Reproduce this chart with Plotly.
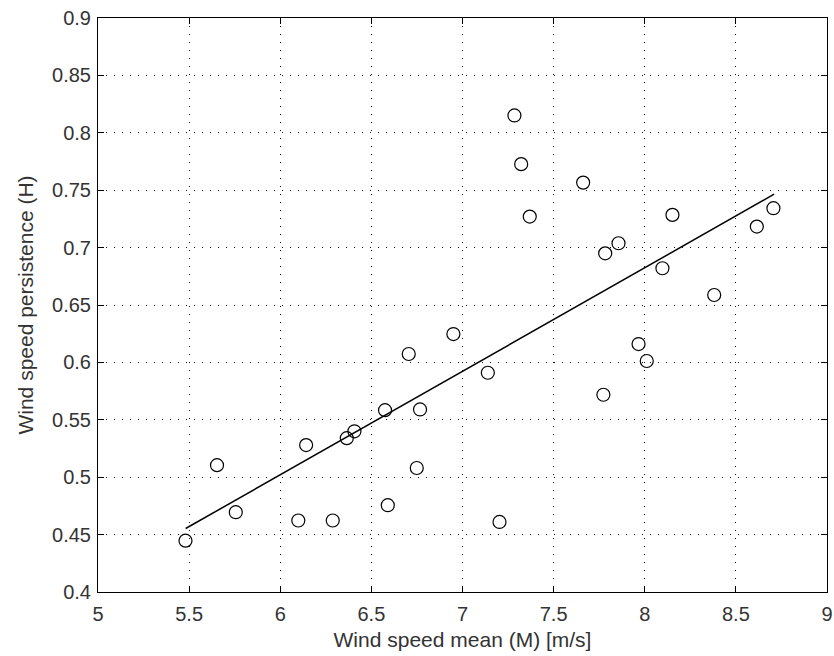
import plotly.graph_objects as go

# Scatter data: wind speed mean (M) vs wind speed persistence (H)
mean_speed = [5.48, 5.653, 5.756, 6.099, 6.142, 6.288, 6.365, 6.407, 6.575, 6.59,
              6.705, 6.767, 6.749, 6.95, 7.139, 7.203, 7.773, 7.966, 8.011, 7.285,
              7.322, 7.369, 7.662, 7.783, 7.856, 8.097, 8.152, 8.381, 8.615, 8.706]
persistence = [0.4447, 0.5105, 0.4695, 0.4623, 0.528, 0.4623, 0.534, 0.540, 0.5584, 0.4756,
               0.6073, 0.559, 0.508, 0.6247, 0.591, 0.461, 0.5718, 0.616, 0.6012, 0.8151,
               0.7727, 0.727, 0.7566, 0.695, 0.7038, 0.682, 0.7285, 0.6587, 0.7183, 0.7343]

# Linear fit line endpoints
fit_x = [5.481, 8.71]
fit_y = [0.4553, 0.7465]

x_ticks = [5, 5.5, 6, 6.5, 7, 7.5, 8, 8.5, 9]
y_ticks = [0.4, 0.45, 0.5, 0.55, 0.6, 0.65, 0.7, 0.75, 0.8, 0.85, 0.9]

fig = go.Figure()
fig.add_trace(go.Scatter(
    x=mean_speed, y=persistence, mode="markers",
    marker=dict(symbol="circle-open", size=13, color="black", line=dict(width=1.2, color="black")),
    showlegend=False, hoverinfo="x+y"))
fig.add_trace(go.Scatter(
    x=fit_x, y=fit_y, mode="lines",
    line=dict(color="black", width=1.5), showlegend=False))

font = "Liberation Sans, Arial, sans-serif"
axis_common = dict(
    showline=True, linecolor="black", linewidth=1, mirror="ticks",
    ticks="inside", ticklen=6, tickcolor="black", tickwidth=1,
    showgrid=True, gridcolor="#111111", gridwidth=1, griddash="1px,7px",
    zeroline=False, automargin=False,
    tickfont=dict(family=font, size=20, color="#333333"),
)

fig.update_xaxes(
    range=[5, 9], tickvals=x_ticks, ticktext=[f"{v:g}" for v in x_ticks],
    title=dict(text="Wind speed mean (M) [m/s]", font=dict(family=font, size=21, color="#333333"), standoff=8),
    ticklabelstandoff=4,
    **axis_common)
fig.update_yaxes(
    range=[0.4, 0.9], tickvals=y_ticks, ticktext=[f"{v:g}" for v in y_ticks],
    title=dict(text="Wind speed persistence (H)", font=dict(family=font, size=21, color="#333333"), standoff=12),
    ticklabelstandoff=2,
    **axis_common)

fig.update_layout(
    width=834, height=656,
    margin=dict(l=98, r=7, t=18, b=64),
    paper_bgcolor="white", plot_bgcolor="white",
    font=dict(family=font, color="#333333"),
)

fig.write_html("out.html")
